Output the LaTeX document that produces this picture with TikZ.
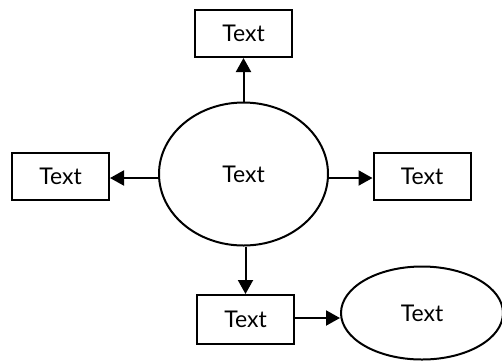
\documentclass[tikz,border=0pt]{standalone}
\usepackage{fontspec}
\setmainfont{Lato}
\usetikzlibrary{shapes.geometric,arrows.meta}
\tikzset{
  box/.style={draw, line width=2pt, minimum width=97pt, minimum height=47pt, font=\fontsize{23}{26}\selectfont},
  oval/.style={draw, ellipse, line width=2pt, font=\fontsize{23}{26}\selectfont},
  arr/.style={line width=2pt, -{Triangle[length=14pt,width=15pt]}}
}
\begin{document}
\begin{tikzpicture}[x=1pt,y=-1pt]
        \useasboundingbox (0,0) rectangle (502,360);
        \node [oval, minimum width=169pt, minimum height=143pt] (hub) at (243.5,174) {Text};
        \node [box] (up) at (243.5,33.5) {Text};
        \node [box] (west) at (60.5,176) {Text};
        \node [box] (east) at (422,176) {Text};
        \node [box, minimum height=49pt] (down) at (245.5,319.5) {Text};
        \node [oval, minimum width=162pt, minimum height=93pt] (last) at (422,313) {Text};
        \draw [arr] (hub.north) -- (up.south);
        \draw [arr] (hub.west |- 0,178) -- (west.east |- 0,178);
        \draw [arr] (hub.east |- 0,178) -- (east.west |- 0,178);
        \draw [arr] (down.north |- hub.south) -- (down.north);
        \draw [arr] (down.east |- 0,318) -- (last.west |- 0,318);
    \end{tikzpicture}
\end{document}
